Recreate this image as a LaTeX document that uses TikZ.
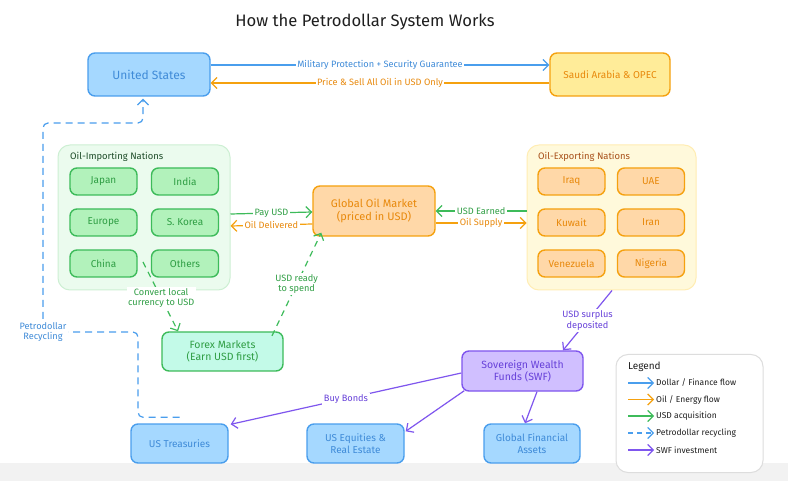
\documentclass[tikz,border=0pt]{standalone}
\usepackage{fontspec}
\setmainfont{Fira Sans}
\usetikzlibrary{arrows.meta,calc}
\definecolor{ink}{HTML}{1E1E1E}
\definecolor{bfill}{HTML}{A5D8FF}
\definecolor{bdraw}{HTML}{4A9EED}
\definecolor{btext}{HTML}{3F8BD8}
\definecolor{ofill}{HTML}{FFD8A8}
\definecolor{odraw}{HTML}{F5A10F}
\definecolor{otext}{HTML}{E8890C}
\definecolor{yfill}{HTML}{FFEC99}
\definecolor{gfill}{HTML}{B2F2BB}
\definecolor{gdraw}{HTML}{3DBB5A}
\definecolor{gtext}{HTML}{2F9E44}
\definecolor{mfill}{HTML}{C3FAE8}
\definecolor{pfill}{HTML}{D0BFFF}
\definecolor{pdraw}{HTML}{7F56EE}
\definecolor{ptext}{HTML}{6741D9}
\definecolor{impfill}{HTML}{EBFBEE}
\definecolor{impdraw}{HTML}{CDEFD3}
\definecolor{imptitle}{HTML}{1F4D2A}
\definecolor{expfill}{HTML}{FFF9DB}
\definecolor{expdraw}{HTML}{FFEDB3}
\definecolor{exptitle}{HTML}{A8501A}
\definecolor{band}{HTML}{F2F2F2}
\definecolor{legdraw}{HTML}{DDDDDD}
\begin{document}
\begin{tikzpicture}[x=1pt,y=-1pt,
  box/.style={rounded corners=7pt, line width=1.4pt, align=center, inner sep=2pt},
  hugefont/.style={font=\fontsize{12}{14}\selectfont},
  bigfont/.style={font=\fontsize{10.5}{12.5}\selectfont},
  smallfont/.style={font=\fontsize{10}{12}\selectfont},
  bluebox/.style={box, fill=bfill, draw=bdraw, text=btext},
  orangebox/.style={box, fill=ofill, draw=odraw, text=otext},
  yellowbox/.style={box, fill=yfill, draw=odraw, text=otext},
  greenbox/.style={box, fill=gfill, draw=gdraw, text=gtext},
  mintbox/.style={box, fill=mfill, draw=gdraw, text=gtext},
  purplebox/.style={box, fill=pfill, draw=pdraw, text=ptext},
  container/.style={rounded corners=12pt, line width=1pt},
  impbox/.style={greenbox, smallfont, minimum width=67pt, minimum height=27pt},
  expbox/.style={orangebox, smallfont, minimum width=67pt, minimum height=27pt},
  tip/.style={-{Straight Barb[length=5.5pt,width=11pt,line width=1.2pt]}},
  flow/.style={tip, line width=1.2pt},
  bflow/.style={flow, draw=bdraw},
  oflow/.style={flow, draw=odraw},
  gflow/.style={flow, draw=gdraw},
  gdash/.style={gflow, dash pattern=on 6pt off 5pt},
  pflow/.style={flow, draw=pdraw},
  recyc/.style={flow, draw=bdraw, dash pattern=on 7pt off 5pt, rounded corners=5pt},
  lbl/.style={fill=white, inner sep=1.5pt, align=center, font=\fontsize{9.2}{10.5}\selectfont},
  legtext/.style={anchor=west, text=ink, inner sep=0pt, font=\fontsize{8.5}{10}\selectfont}
]
\useasboundingbox (0,0) rectangle (788,481);
\fill[white] (0,0) rectangle (788,481);
\fill[band] (0,463) rectangle (788,481);

\node[text=ink, font=\fontsize{16.6}{19}\selectfont] (title) at (365,22) {How the Petrodollar System Works};

% top nodes
\node[bluebox, hugefont, minimum width=122pt, minimum height=43pt] (us) at (149,74.5) {United States};
\node[yellowbox, smallfont, minimum width=120pt, minimum height=43pt] (saudi) at (610,74.5) {Saudi Arabia \& OPEC};

% containers
\node[container, fill=impfill, draw=impdraw, minimum width=172pt, minimum height=145pt] (imp) at (144,217.5) {};
\node[anchor=west, text=imptitle, inner sep=0pt, font=\fontsize{9.4}{11}\selectfont] (imptitle) at (70,157) {Oil-Importing Nations};
\node[container, fill=expfill, draw=expdraw, minimum width=169pt, minimum height=145pt] (exp) at (611.5,217.5) {};
\node[anchor=west, text=exptitle, inner sep=0pt, font=\fontsize{9.4}{11}\selectfont] (exptitle) at (538,157) {Oil-Exporting Nations};

% importing countries
\node[impbox] (japan) at (103.5,181.5) {Japan};
\node[impbox] (india) at (185,181.5) {India};
\node[impbox] (europe) at (103.5,222.5) {Europe};
\node[impbox] (korea) at (185,222.5) {S. Korea};
\node[impbox] (china) at (103.5,263.5) {China};
\node[impbox] (others) at (185,263.5) {Others};

% exporting countries
\node[expbox] (iraq) at (571.5,181.5) {Iraq};
\node[expbox] (uae) at (651,181.5) {UAE};
\node[expbox] (kuwait) at (571.5,222.5) {Kuwait};
\node[expbox] (iran) at (651,222.5) {Iran};
\node[expbox] (venez) at (571.5,263.5) {Venezuela};
\node[expbox] (nigeria) at (651,263.5) {Nigeria};

% middle
\node[orangebox, font=\fontsize{11}{13.5}\selectfont, minimum width=122pt, minimum height=50pt] (market) at (374,211) {Global Oil Market\\(priced in USD)};
\node[mintbox, bigfont, minimum width=121pt, minimum height=39pt] (forex) at (222.5,351.5) {Forex Markets\\(Earn USD first)};
\node[purplebox, bigfont, minimum width=121pt, minimum height=40pt] (swf) at (522.5,371) {Sovereign Wealth\\Funds (SWF)};

% bottom
\node[bluebox, smallfont, minimum width=97pt, minimum height=39pt] (tre) at (179.5,443.5) {US Treasuries};
\node[bluebox, smallfont, minimum width=97pt, minimum height=39pt] (equ) at (355.5,443.5) {US Equities \&\\Real Estate};
\node[bluebox, smallfont, minimum width=96pt, minimum height=39pt] (gfa) at (532,443.5) {Global Financial\\Assets};

% top connectors
\draw[bflow] ([yshift=9.5pt]us.east) -- node[lbl, text=btext] {Military Protection + Security Guarantee} ([yshift=9.5pt]saudi.west);
\draw[oflow] ([yshift=-8.5pt]saudi.west) -- node[lbl, text=otext] {Price \& Sell All Oil in USD Only} ([yshift=-8.5pt]us.east);

% market connectors
\draw[gflow] ([yshift=3.5pt]imp.east) -- node[lbl, text=gtext] {Pay USD} ([yshift=-1pt]market.west);
\draw[oflow] ([yshift=-13pt]market.west) -- node[lbl, text=otext] {Oil Delivered} ([yshift=-8.5pt]imp.east);
\draw[gflow] ([yshift=6.5pt]exp.west) -- node[lbl, text=gtext] {USD Earned} (market.east);
\draw[oflow] ([yshift=-12pt]market.east) -- node[lbl, text=otext] {Oil Supply} ([yshift=-5.5pt]exp.west);

% forex connectors
\coordinate (cstart) at (143,262);
\draw[gdash] (cstart) -- node[lbl, text=gtext, pos=0.52] {Convert local\\currency to USD} ([xshift=-44.5pt]forex.north);
\draw[gdash] ([xshift=49.5pt,yshift=-4.5pt]forex.north) -- node[lbl, text=gtext] {USD ready\\to spend} ([xshift=9pt,yshift=4pt]market.south west);

% SWF connectors
\draw[pflow] ([xshift=0.5pt]exp.south) -- node[lbl, text=ptext] {USD surplus\\deposited} ([xshift=40.5pt]swf.north);
\draw[pflow] ([yshift=-2pt]swf.west) -- node[lbl, text=ptext] {Buy Bonds} ([xshift=2pt,yshift=-1pt]tre.north east);
\draw[pflow] ([xshift=3pt,yshift=1pt]swf.south west) -- ([xshift=1pt,yshift=-8pt]equ.north east);
\draw[pflow] ([xshift=14.5pt]swf.south) -- ([xshift=-7pt]gfa.north);

% petrodollar recycling
\coordinate (rc1) at (138,332);
\coordinate (rc2) at (43,123);
\draw[recyc] ([yshift=6pt]tre.north) -| (rc1) -- (43,332) -- (rc2) -| ([xshift=-6pt,yshift=-2pt]us.south);
\node[lbl, text=btext] (rlabel) at (43,332) {Petrodollar\\Recycling};

% legend
\node[draw=legdraw, fill=white, line width=1pt, rounded corners=12pt, minimum width=147pt, minimum height=118pt] (legend) at (689.5,413.5) {};
\node[anchor=west, text=ink, inner sep=0pt, font=\fontsize{10}{12}\selectfont] (legtitle) at (628,367) {Legend};
\node[legtext] (l1) at (656,383) {Dollar / Finance flow};
\node[legtext] (l2) at (656,399.5) {Oil / Energy flow};
\node[legtext] (l3) at (656,416) {USD acquisition};
\node[legtext] (l4) at (656,433) {Petrodollar recycling};
\node[legtext] (l5) at (656,450) {SWF investment};
\draw[bflow] ([xshift=-28pt]l1.west) -- ([xshift=-2pt]l1.west);
\draw[oflow] ([xshift=-28pt]l2.west) -- ([xshift=-2pt]l2.west);
\draw[gflow] ([xshift=-28pt]l3.west) -- ([xshift=-2pt]l3.west);
\draw[bflow, dash pattern=on 5pt off 4pt] ([xshift=-28pt]l4.west) -- ([xshift=-2pt]l4.west);
\draw[pflow] ([xshift=-28pt]l5.west) -- ([xshift=-2pt]l5.west);
\end{tikzpicture}
\end{document}
